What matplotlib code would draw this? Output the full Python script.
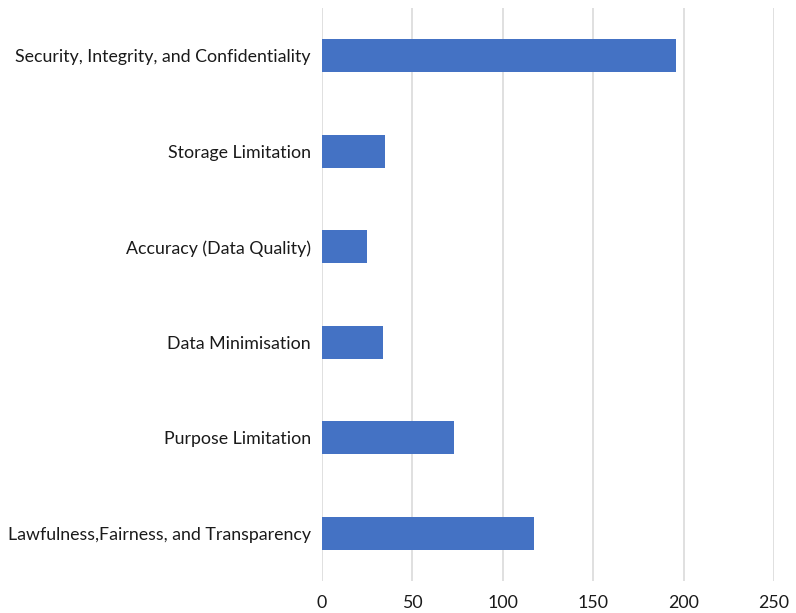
import matplotlib
matplotlib.use("Agg")
import matplotlib.pyplot as plt

categories = [
    "Lawfulness,Fairness, and Transparency",
    "Purpose Limitation",
    "Data Minimisation",
    "Accuracy (Data Quality)",
    "Storage Limitation",
    "Security, Integrity, and Confidentiality",
]
values = [117, 73, 34, 25, 35, 196]
xticks = [0, 50, 100, 150, 200, 250]

plt.rcParams["font.family"] = ["Lato", "DejaVu Sans"]

fig = plt.figure(figsize=(7.96, 6.13), dpi=100)
ax = fig.add_axes([322 / 796, 1 - 581 / 613, (774 - 322) / 796, (581 - 8) / 613])

ax.barh(range(len(categories)), values, height=0.35, color="#4472C4", zorder=3)
ax.set_ylim(-0.5, len(categories) - 0.5)
ax.set_xlim(0, 250)
ax.set_xticks(xticks)
ax.set_yticks(range(len(categories)))
ax.set_yticklabels(categories)
ax.grid(axis="x", color="#DADADA", linewidth=1.2, zorder=0)
for s in ax.spines.values():
    s.set_visible(False)
ax.tick_params(axis="both", length=0, labelsize=12.8, labelcolor="#1a1a1a")
ax.tick_params(axis="x", pad=10)
ax.tick_params(axis="y", pad=8)

fig.savefig("out.png", dpi=100)
